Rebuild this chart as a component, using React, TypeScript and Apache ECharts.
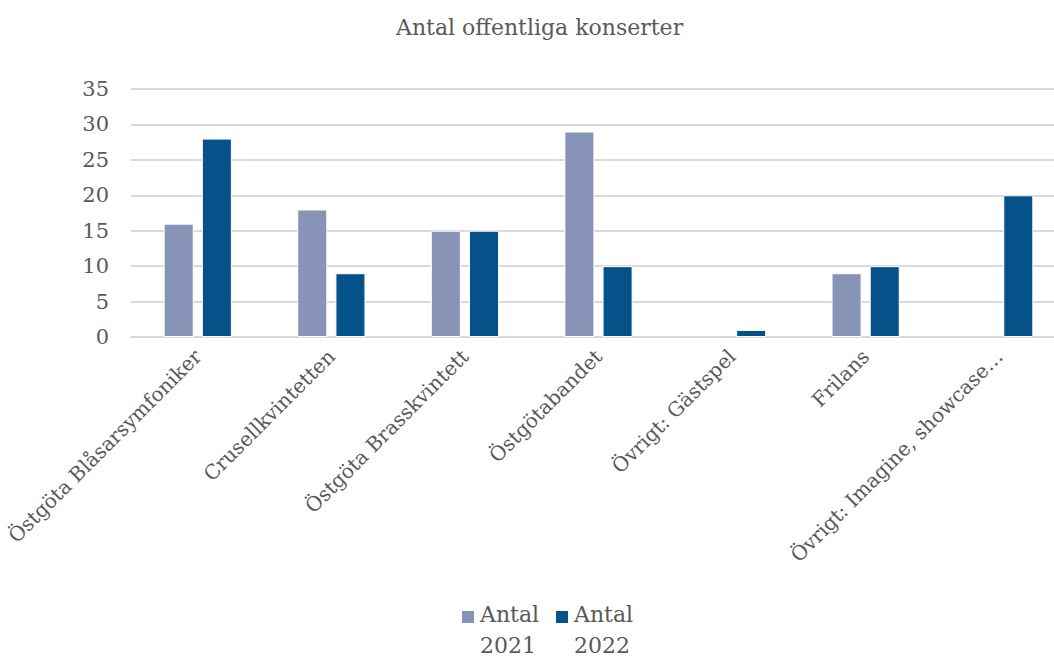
import React, { useEffect, useRef } from "react";
import * as echarts from "echarts";

const categories = [
  "Östgöta Blåsarsymfoniker",
  "Crusellkvintetten",
  "Östgöta Brasskvintett",
  "Östgötabandet",
  "Övrigt: Gästspel",
  "Frilans",
  "Övrigt: Imagine, showcase…",
];
const values2021 = [16, 18, 15, 29, null, 9, null];
const values2022 = [28, 9, 15, 10, 1, 10, 20];
const yTicks = [0, 5, 10, 15, 20, 25, 30, 35];

const FONT = "'DejaVu Serif', 'Liberation Serif', serif";
const TEXT = "#595959";
const ICON = "path://M0,0L14,0L14,14L0,14Z M0,40L14,40Z";

export default function App() {
  const ref = useRef<HTMLDivElement>(null);
  useEffect(() => {
    if (!ref.current) return;
    const chart = echarts.init(ref.current, undefined, { renderer: "svg" });
    chart.setOption({
      animation: false,
      backgroundColor: "#ffffff",
      title: {
        text: "Antal offentliga konserter",
        left: 396,
        top: 16,
        padding: 0,
        textStyle: { fontFamily: FONT, fontSize: 22, fontWeight: "normal", color: TEXT },
      },
      legend: {
        bottom: -4,
        left: 460,
        padding: 0,
        itemWidth: 14,
        itemHeight: 40,
        itemGap: 15,
        icon: ICON,
        textStyle: { fontFamily: FONT, fontSize: 22, color: TEXT, lineHeight: 31 },
        data: ["Antal\n2021", "Antal\n2022"],
      },
      grid: {
        left: 131,
        right: -12,
        top: 89,
        bottom: 320,
        containLabel: false,
        outerBoundsMode: "none",
      },
      xAxis: {
        type: "category",
        data: categories,
        axisTick: { show: false },
        axisLine: { lineStyle: { color: "#d9d9d9", width: 2 } },
        axisLabel: {
          rotate: 45,
          interval: 0,
          fontFamily: FONT,
          fontSize: 20,
          color: TEXT,
          margin: 16,
        },
      },
      yAxis: {
        type: "value",
        min: 0,
        max: 35,
        interval: 5,
        axisLabel: {
          fontFamily: FONT,
          fontSize: 21,
          color: TEXT,
          margin: 22,
          formatter: (v: number) => (yTicks.includes(v) ? String(v) : ""),
        },
        splitLine: { lineStyle: { color: "#d9d9d9", width: 2 } },
      },
      series: [
        {
          name: "Antal\n2021",
          type: "bar",
          data: values2021,
          barWidth: "22.5%",
          barGap: "27%",
          itemStyle: { color: "#8893B8", borderColor: "#ffffff", borderWidth: 1 },
        },
        {
          name: "Antal\n2022",
          type: "bar",
          data: values2022,
          barWidth: "22.5%",
          itemStyle: { color: "#05528A", borderColor: "#ffffff", borderWidth: 1 },
        },
      ],
    });
    return () => chart.dispose();
  }, []);
  return (
    <div
      ref={ref}
      style={{ position: "fixed", left: 0, top: 0, width: 1054, height: 657 }}
    />
  );
}
